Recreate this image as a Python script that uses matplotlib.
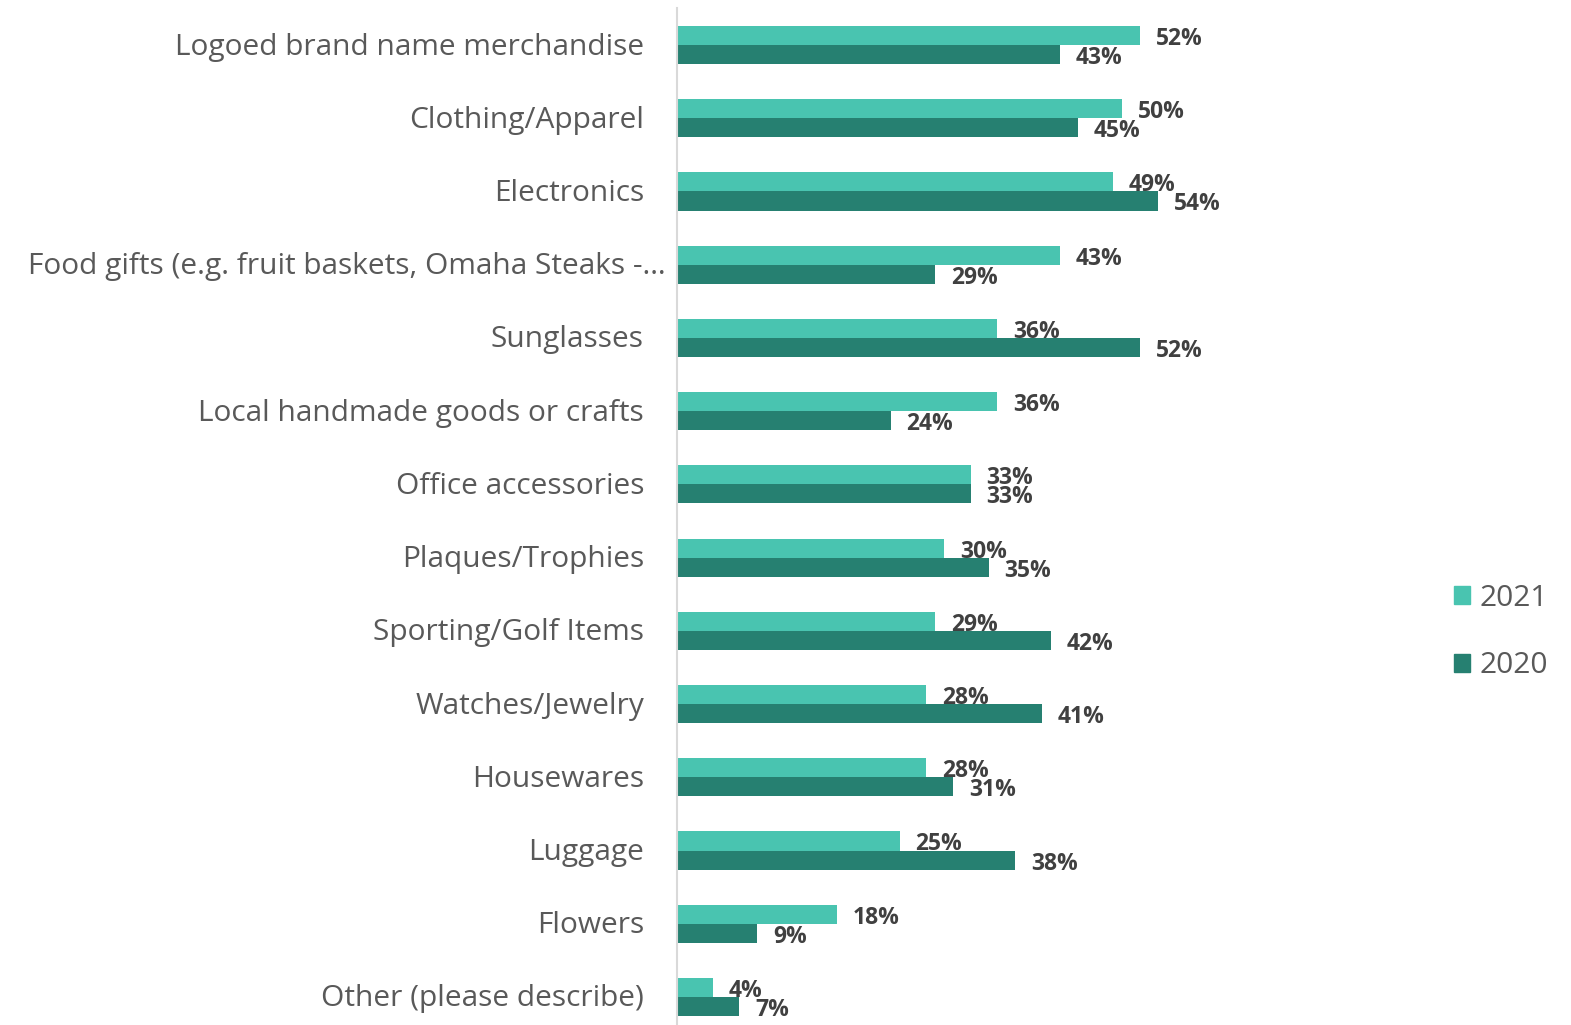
import matplotlib
matplotlib.use("Agg")
import matplotlib.pyplot as plt
import matplotlib.transforms as mtransforms
from matplotlib.patches import Patch
import numpy as np

categories = [
    "Logoed brand name merchandise",
    "Clothing/Apparel",
    "Electronics",
    "Food gifts (e.g. fruit baskets, Omaha Steaks -\u2026",
    "Sunglasses",
    "Local handmade goods or crafts",
    "Office accessories",
    "Plaques/Trophies",
    "Sporting/Golf Items",
    "Watches/Jewelry",
    "Housewares",
    "Luggage",
    "Flowers",
    "Other (please describe)",
]
values_2021 = [52, 50, 49, 43, 36, 36, 33, 30, 29, 28, 28, 25, 18, 4]
values_2020 = [43, 45, 54, 29, 52, 24, 33, 35, 42, 41, 31, 38, 9, 7]
series_names = ["2021", "2020"]

color_2021 = "#49C4B0"
color_2020 = "#268071"
label_color = "#595959"
value_color = "#404040"
font = "Open Sans"

W, H = 1571, 1025
fig = plt.figure(figsize=(W / 100, H / 100), dpi=100)

# axes geometry in pixels
ax_left, ax_right = 677, 1400
ax_top, ax_bottom = 8.4, 1033.6
ax = fig.add_axes([ax_left / W, (H - ax_bottom) / H,
                   (ax_right - ax_left) / W, (ax_bottom - ax_top) / H])

px_per_pct = 8.9
ax.set_xlim(0, (ax_right - ax_left) / px_per_pct)
n = len(categories)
ax.set_ylim(n - 0.5, -0.5)

y = np.arange(n)
h = 0.26
ax.barh(y - h / 2, values_2021, height=h, color=color_2021, label=series_names[0])
ax.barh(y + h / 2, values_2020, height=h, color=color_2020, label=series_names[1])

# value labels
for yi, v in zip(y, values_2021):
    ax.annotate(f"{v}%", xy=(v, yi - h / 2), xytext=(11.5, -2.5), textcoords="offset points",
                ha="left", va="center", fontsize=16.5, fontweight="bold",
                color=value_color, family=font)
for yi, v in zip(y, values_2020):
    ax.annotate(f"{v}%", xy=(v, yi + h / 2), xytext=(11.5, -2.5), textcoords="offset points",
                ha="left", va="center", fontsize=16.5, fontweight="bold",
                color=value_color, family=font)

# category labels
ax.set_yticks([])
ax.set_xticks([])
trans = mtransforms.blended_transform_factory(ax.transAxes, ax.transData)
for i, cat in enumerate(categories):
    dx = -33 if not cat.endswith("\u2026") else -11
    off = mtransforms.ScaledTranslation(dx / 100, -2 / 100, fig.dpi_scale_trans)
    ax.text(0, i, cat, transform=trans + off, ha="right", va="center",
            fontsize=21.5, color=label_color, family=font)

for s in ["top", "right", "bottom"]:
    ax.spines[s].set_visible(False)
ax.spines["left"].set_color("#D9D9D9")
ax.spines["left"].set_linewidth(1.5)

handles = [Patch(color=color_2021, label="2021"), Patch(color=color_2020, label="2020")]
leg = fig.legend(handles=handles, loc="center left", bbox_to_anchor=(1427 / W, 1 - 632 / H),
                 frameon=False, prop={"family": font, "size": 21.5},
                 handlelength=0.55, handleheight=0.55, handletextpad=0.3, labelspacing=1.3,
                 labelcolor=label_color)

fig.savefig("out.png", dpi=100)
